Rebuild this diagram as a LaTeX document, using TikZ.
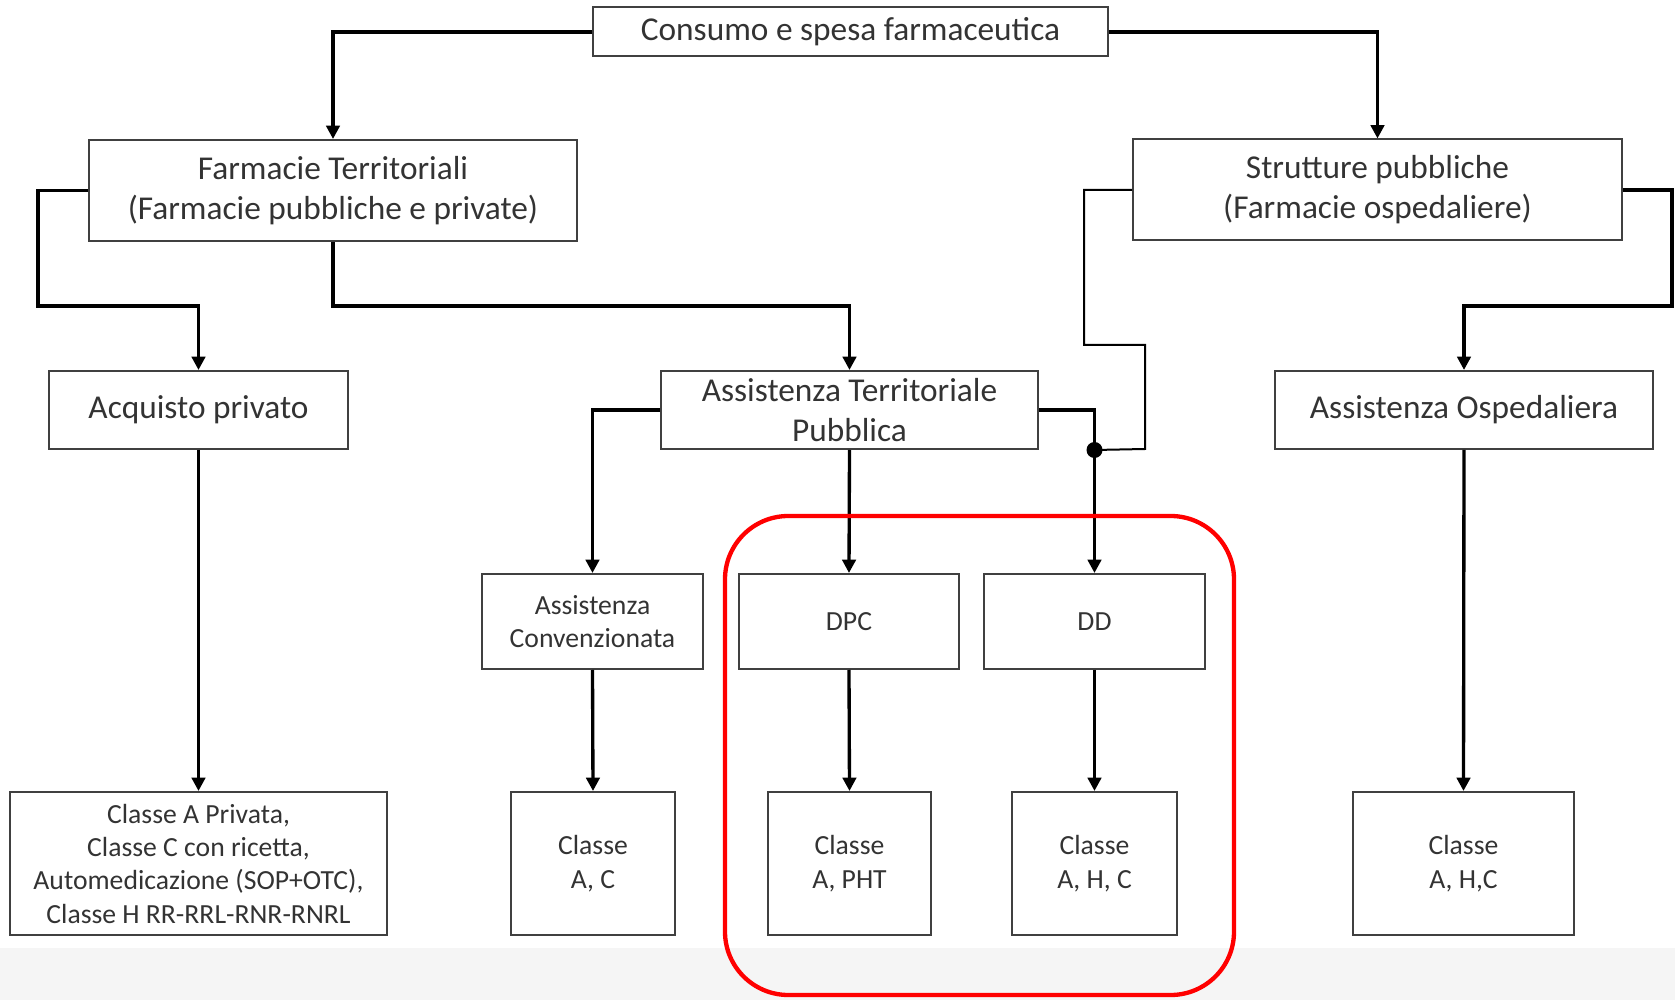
\documentclass[tikz,border=0pt]{standalone}
\usepackage{fontspec}
\setmainfont{Carlito}
\usetikzlibrary{arrows.meta}
\tikzset{bx/.style 2 args={draw=black!75,line width=0.6pt,minimum width=#1*0.3pt,minimum height=#2*0.3pt,align=center,inner sep=1pt,text=black!80,font=\fontsize{10}{12}\selectfont},
sm/.style={font=\fontsize{8.3}{10}\selectfont},arr/.style={-{Triangle[length=4pt,width=4pt]},line width=1pt}}
\begin{document}
\begin{tikzpicture}[x=0.3pt,y=-0.3pt]
\useasboundingbox(0,0)rectangle(1675,1000);
\fill[black!4](0,948)rectangle(1675,1000);
\node[bx={515}{49}](top)at(850.5,32){Consumo e spesa farmaceutica};
\node[bx={488}{101}](farm)at(333,190.5){Farmacie Territoriali\\(Farmacie pubbliche e private)};\node[bx={489}{101}](strut)at(1377.5,190){Strutture pubbliche\\(Farmacie ospedaliere)};
\node[bx={299}{78}](acq)at(198.5,410){Acquisto privato};\node[bx={377}{78}](atp)at(849.5,410){Assistenza Territoriale\\Pubblica};\node[bx={378}{78}](osp)at(1464,410){Assistenza Ospedaliera};
\node[bx={221}{95},sm](conv)at(592.5,621.5){Assistenza\\Convenzionata};\node[bx={220}{95},sm](dpc)at(849,621.5){DPC};\node[bx={221}{95},sm](dd)at(1094.5,621.5){DD};
\node[bx={377}{143},sm](cpriv)at(198.5,863.5){Classe A Privata,\\Classe C con ricetta,\\Automedicazione (SOP+OTC),\\Classe H RR-RRL-RNR-RNRL};
\node[bx={164}{143},sm](cconv)at(593,863.5){Classe\\A, C};\node[bx={163}{143},sm](cdpc)at(849.5,863.5){Classe\\A, PHT};
\node[bx={165}{143},sm](cdd)at(1094.5,863.5){Classe\\A, H, C};\node[bx={221}{143},sm](cosp)at(1463.5,863.5){Classe\\A, H,C};
\coordinate(jn)at(dd.north|-atp.south);
\foreach\a/\b in{top.west/farm.north,top.east/strut.north,atp.west/conv.north,atp.east/dd.north}\draw[arr](\a)-|(\b);
\foreach\a/\b in{acq/cpriv,atp/dpc,conv/cconv,dpc/cdpc,dd/cdd,osp/cosp}\draw[arr](\a.south)--(\b.north);
\draw[arr](farm.west)-|(38,306)-|(acq.north);\draw[arr](farm.south)--(333,306)-|(atp.north);
\draw[arr](strut.east)-|(1672,306)-|(osp.north);
\draw[line width=0.6pt](strut.west)-|(1084,345)-|(1145,449)--(jn);\fill(jn)circle(2.4pt);
\draw[red,line width=1.3pt,rounded corners=19pt](725,516)rectangle(1234,995);
\end{tikzpicture}
\end{document}
